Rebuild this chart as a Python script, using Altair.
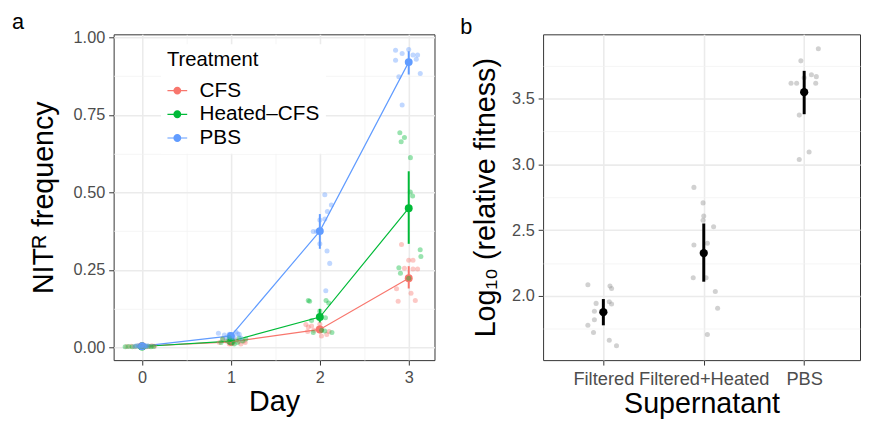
import altair as alt
import pandas as pd

FONT = "Liberation Sans"

# ---------------- Panel a data ----------------
trt_names = ["CFS", "Heated–CFS", "PBS"]
trt_colors = ["#F8766D", "#00BA38", "#619CFF"]
days = [0, 1, 2, 3]

mean_cfs = [0.004, 0.018, 0.058, 0.223]
mean_heat = [0.003, 0.020, 0.098, 0.449]
mean_pbs = [0.004, 0.037, 0.375, 0.920]
lo_cfs = [0.002, 0.014, 0.046, 0.190]
hi_cfs = [0.006, 0.022, 0.070, 0.262]
lo_heat = [0.002, 0.016, 0.080, 0.334]
hi_heat = [0.005, 0.025, 0.124, 0.568]
lo_pbs = [0.002, 0.030, 0.318, 0.880]
hi_pbs = [0.006, 0.045, 0.430, 0.955]

cfs_day = [0]*10 + [1]*10 + [2]*10 + [3]*10
cfs_jit = [-0.17, -0.12, -0.08, -0.04, -0.01, 0.02, 0.05, 0.08, 0.11, 0.14,
           -0.13, -0.056, 0.019, 0.093, 0.148, -0.019, 0.056, -0.093, 0.111, 0.16,
           -0.157, -0.13, -0.093, -0.137, -0.067, -0.019, 0.018, 0.078, 0.103, 0.0,
           -0.081, 0.0, 0.048, -0.048, 0.048, 0.1, -0.137, 0.026, -0.119, 0.074]
cfs_val = [0.003, 0.004, 0.002, 0.005, 0.003, 0.004, 0.002, 0.003, 0.005, 0.004,
           0.016, 0.021, 0.013, 0.019, 0.021, 0.011, 0.023, 0.027, 0.011, 0.016,
           0.074, 0.066, 0.069, 0.051, 0.055, 0.061, 0.037, 0.042, 0.051, 0.075,
           0.332, 0.281, 0.281, 0.255, 0.253, 0.253, 0.189, 0.175, 0.149, 0.151]

heat_day = [0]*10 + [1]*10 + [2]*11 + [3]*11
heat_jit = [-0.19, -0.15, -0.11, -0.07, -0.03, 0.0, 0.04, 0.07, 0.1, 0.13,
            -0.093, -0.037, 0.019, 0.074, 0.13, 0.167, -0.111, 0.037, -0.019, 0.093,
            -0.13, -0.115, 0.07, 0.1, 0.0, 0.063, -0.093, -0.074, 0.055, 0.136, 0.02,
            -0.1, -0.048, -0.085, 0.019, 0.018, 0.044, 0.129, 0.137, -0.111, -0.093, 0.0]
heat_val = [0.002, 0.003, 0.002, 0.004, 0.003, 0.002, 0.003, 0.004, 0.002, 0.003,
            0.027, 0.021, 0.023, 0.016, 0.021, 0.027, 0.016, 0.011, 0.032, 0.030,
            0.151, 0.149, 0.151, 0.143, 0.117, 0.096, 0.087, 0.048, 0.053, 0.048, 0.055,
            0.692, 0.677, 0.663, 0.612, 0.501, 0.488, 0.315, 0.293, 0.257, 0.239, 0.223]

pbs_day = [0]*10 + [1]*10 + [2]*11 + [3]*10
pbs_jit = [-0.08, -0.05, -0.03, -0.01, 0.0, 0.02, 0.04, 0.06, -0.02, 0.03,
           -0.141, -0.074, -0.019, 0.056, 0.093, 0.037, -0.056, 0.0, 0.111, 0.074,
           0.056, 0.13, 0.085, 0.0, 0.056, -0.074, -0.037, 0.0, 0.081, 0.111, 0.067,
           -0.148, -0.074, 0.0, -0.148, 0.048, 0.1, 0.085, 0.13, -0.111, -0.074]
pbs_val = [0.004, 0.006, 0.003, 0.005, 0.007, 0.004, 0.003, 0.005, 0.002, 0.006,
           0.046, 0.040, 0.042, 0.050, 0.042, 0.032, 0.032, 0.037, 0.030, 0.044,
           0.492, 0.459, 0.438, 0.411, 0.414, 0.374, 0.374, 0.334, 0.311, 0.271, 0.183,
           0.958, 0.948, 0.961, 0.926, 0.943, 0.943, 0.929, 0.883, 0.873, 0.782]

# ---------------- Panel b data ----------------
sup_names = ["Filtered", "Filtered+Heated", "PBS"]
sup_mean = [1.875, 2.325, 3.55]
sup_lo = [1.775, 2.107, 3.382]
sup_hi = [1.975, 2.55, 3.712]

filt_jit = [-0.154, 0.066, 0.082, -0.072, 0.059, 0.082, -0.089, -0.089, -0.154, -0.098, 0.059, 0.131]
filt_val = [2.083, 2.075, 2.055, 1.942, 1.955, 1.937, 1.882, 1.817, 1.775, 1.72, 1.662, 1.62]
fh_jit = [-0.098, -0.007, 0.0, -0.007, 0.098, -0.098, 0.036, -0.105, 0.023, 0.115, 0.138, 0.036]
fh_val = [2.825, 2.707, 2.607, 2.575, 2.525, 2.387, 2.4, 2.137, 2.137, 2.032, 1.905, 1.705]
pb_jit = [0.141, -0.033, 0.072, 0.121, -0.131, -0.075, 0.115, -0.049, 0.049, -0.049, 0.0]
pb_val = [3.88, 3.788, 3.683, 3.668, 3.617, 3.617, 3.617, 3.375, 3.095, 3.037, 3.66]

# ---------------- Build tables ----------------
summ_a = pd.DataFrame({
    "trt": [trt_names[0]]*4 + [trt_names[1]]*4 + [trt_names[2]]*4,
    "day": days*3,
    "mean": mean_cfs + mean_heat + mean_pbs,
    "lo": lo_cfs + lo_heat + lo_pbs,
    "hi": hi_cfs + hi_heat + hi_pbs,
})
pts_a = pd.concat([
    pd.DataFrame({"trt": trt_names[0], "day": cfs_day, "jit": cfs_jit, "val": cfs_val}),
    pd.DataFrame({"trt": trt_names[1], "day": heat_day, "jit": heat_jit, "val": heat_val}),
    pd.DataFrame({"trt": trt_names[2], "day": pbs_day, "jit": pbs_jit, "val": pbs_val}),
])
pts_a["x"] = pts_a["day"] + pts_a["jit"]

summ_b = pd.DataFrame({"idx": [0, 1, 2], "mean": sup_mean, "lo": sup_lo, "hi": sup_hi})
pts_b = pd.concat([
    pd.DataFrame({"idx": 0, "jit": filt_jit, "val": filt_val}),
    pd.DataFrame({"idx": 1, "jit": fh_jit, "val": fh_val}),
    pd.DataFrame({"idx": 2, "jit": pb_jit, "val": pb_val}),
])
pts_b["x"] = pts_b["idx"] + pts_b["jit"]

# ---------------- Styles ----------------
MAJ_GRID = "#ebebeb"
MIN_GRID = "#f2f2f2"

color_scale = alt.Scale(domain=trt_names, range=trt_colors)
legend_path = ("M-1,-0.06H1V0.06H-1Z "
               "M0.4,0A0.4,0.4,0,1,1,-0.4,0A0.4,0.4,0,1,1,0.4,0Z")

xa_scale = alt.Scale(domain=[-0.32, 3.29], nice=False, zero=False)
ya_scale = alt.Scale(domain=[-0.041, 1.0096], nice=False, zero=False)

xa_axis = alt.Axis(
    values=[0, 0.5, 1, 1.5, 2, 2.5, 3],
    labelExpr="datum.value % 1 == 0 ? format(datum.value, 'd') : ''",
    tickOpacity={"condition": {"test": "datum.value % 1 == 0", "value": 1}, "value": 0},
    gridWidth={"condition": {"test": "datum.value % 1 == 0", "value": 1.6}, "value": 0.8},
    gridColor={"condition": {"test": "datum.value % 1 == 0", "value": MAJ_GRID}, "value": MIN_GRID},
    title="Day", labelPadding=5, titlePadding=2,
)
ya_axis = alt.Axis(
    values=[0, 0.125, 0.25, 0.375, 0.5, 0.625, 0.75, 0.875, 1.0],
    labelExpr="abs(datum.value*4 - round(datum.value*4)) < 0.001 ? format(datum.value, '.2f') : ''",
    tickOpacity={"condition": {"test": "abs(datum.value*4 - round(datum.value*4)) < 0.001", "value": 1}, "value": 0},
    gridWidth={"condition": {"test": "abs(datum.value*4 - round(datum.value*4)) < 0.001", "value": 1.6}, "value": 0.8},
    gridColor={"condition": {"test": "abs(datum.value*4 - round(datum.value*4)) < 0.001", "value": MAJ_GRID}, "value": MIN_GRID},
    title="NITᴿ frequency", labelPadding=4, titlePadding=15,
)

base_a = alt.Chart(summ_a)
mean_a = base_a.mark_point(filled=True, size=64, opacity=1, shape="circle").encode(
    x=alt.X("day:Q", scale=xa_scale, axis=xa_axis),
    y=alt.Y("mean:Q", scale=ya_scale, axis=ya_axis),
    color=alt.Color("trt:N", scale=color_scale, legend=alt.Legend(
        title="Treatment", orient="none", legendX=48, legendY=10,
        fillColor="white", padding=6, symbolType=legend_path, symbolSize=400,
        symbolStrokeWidth=0, symbolOpacity=1, labelFontSize=21, titleFontSize=20.5,
        titleFontWeight="normal", labelOffset=12, rowPadding=2, titlePadding=10,
        labelColor="black", titleColor="black", labelFont=FONT, titleFont=FONT,
    )),
)
line_a = base_a.mark_line(strokeWidth=1.2).encode(
    x="day:Q", y="mean:Q",
    color=alt.Color("trt:N", scale=color_scale, legend=None),
)
err_a = base_a.mark_rule(strokeWidth=2).encode(
    x="day:Q", y="lo:Q", y2="hi:Q",
    color=alt.Color("trt:N", scale=color_scale, legend=None),
)
pts_layer_a = alt.Chart(pts_a).mark_point(filled=True, size=26, opacity=0.4, shape="circle").encode(
    x="x:Q", y="val:Q",
    color=alt.Color("trt:N", scale=color_scale, legend=None),
)

panel_a = alt.layer(mean_a, line_a, err_a, pts_layer_a).properties(
    width=325, height=330,
    title=alt.TitleParams("a", anchor="start", frame="group", dx=-103, offset=-22,
                          fontSize=22, fontWeight="normal", font=FONT, color="black",
                          baseline="alphabetic"),
)

# ---------------- Panel b ----------------
xb_scale = alt.Scale(domain=[-0.6, 2.556], nice=False, zero=False)
yb_scale = alt.Scale(domain=[1.51, 3.99], nice=False, zero=False)
lab_expr = "[" + ",".join("'" + s + "'" for s in sup_names) + "][datum.value]"
xb_axis = alt.Axis(values=[0, 1, 2], labelExpr=lab_expr, labelOverlap=False, labelBound=False,
                   gridWidth=1.6, gridColor=MAJ_GRID, title="Supernatant",
                   labelPadding=5, titlePadding=2, labelFontSize=18.5)
yb_axis = alt.Axis(
    values=[1.75, 2.0, 2.25, 2.5, 2.75, 3.0, 3.25, 3.5, 3.75],
    labelExpr="datum.value % 0.5 == 0 ? format(datum.value, '.1f') : ''",
    tickOpacity={"condition": {"test": "datum.value % 0.5 == 0", "value": 1}, "value": 0},
    gridWidth={"condition": {"test": "datum.value % 0.5 == 0", "value": 1.6}, "value": 0.8},
    gridColor={"condition": {"test": "datum.value % 0.5 == 0", "value": MAJ_GRID}, "value": MIN_GRID},
    title="Log₁₀ (relative fitness)", labelPadding=4, titlePadding=11,
)

base_b = alt.Chart(summ_b)
pts_layer_b = alt.Chart(pts_b).mark_point(filled=True, size=26, opacity=0.45, color="#999999",
                                          shape="circle").encode(
    x=alt.X("x:Q", scale=xb_scale, axis=xb_axis),
    y=alt.Y("val:Q", scale=yb_scale, axis=yb_axis),
)
err_b = base_b.mark_rule(strokeWidth=3, color="black").encode(x="idx:Q", y="lo:Q", y2="hi:Q")
mean_b = base_b.mark_point(filled=True, size=70, opacity=1, color="black", shape="circle").encode(
    x="idx:Q", y="mean:Q")

panel_b = alt.layer(pts_layer_b, err_b, mean_b).properties(
    width=321, height=330,
    title=alt.TitleParams("b", anchor="start", frame="group", dx=-84, offset=-22,
                          fontSize=22, fontWeight="normal", font=FONT, color="black",
                          baseline="alphabetic"),
)

chart = alt.hconcat(panel_a, panel_b, spacing=110, bounds="flush").properties(
    padding={"left": 3, "top": 0, "right": 0, "bottom": 0},
    background="white",
).configure_view(
    stroke="#333333", strokeWidth=1
).configure_axis(
    domain=False, tickColor="#333333", tickSize=5, tickWidth=1,
    labelColor="#4d4d4d", labelFontSize=16.5, labelFont=FONT,
    titleFont=FONT, titleFontSize=29, titleFontWeight="normal", titleColor="black",
)

chart.save("out.html", embed_options={"renderer": "svg", "actions": False})
